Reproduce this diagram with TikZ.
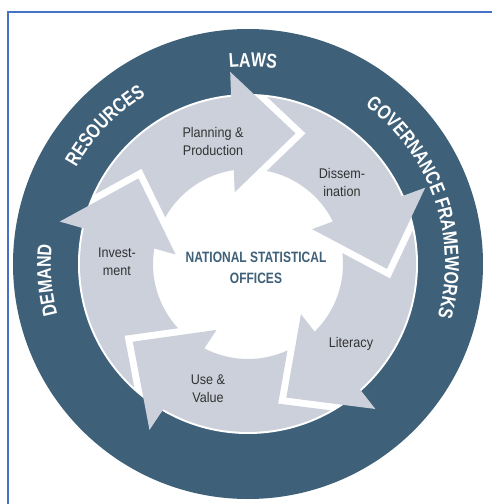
\documentclass[tikz,border=0pt]{standalone}
\usepackage{fontspec}
\setmainfont{Liberation Sans}
\newfontfamily\condfont[FakeStretch=0.8]{Liberation Sans}
\newfontfamily\innerfont[FakeStretch=0.9]{Liberation Sans}
\usetikzlibrary{decorations.text}
\definecolor{ringblue}{RGB}{62,96,121}
\definecolor{arrowgray}{RGB}{203,208,219}
\definecolor{labelgray}{RGB}{50,50,50}
\definecolor{frameblue}{RGB}{68,114,196}
\begin{document}
\begin{tikzpicture}[x=1pt,y=1pt,
  steplabel/.style={font=\innerfont\fontsize{14}{18}\selectfont, text=labelgray, align=center, inner sep=0pt},
  centerlabel/.style={font=\condfont\bfseries\fontsize{15}{21}\selectfont, text=ringblue, align=center, inner sep=0pt},
  ringtext/.style={decorate, decoration={text along path, text align=center, text color=white,
     text={|\condfont\bfseries\fontsize{20}{24}\selectfont|#1}}}]
\useasboundingbox (-248,-240) rectangle (244,264);
% frame
\draw[frameblue, line width=1.6pt] (-240,-241) -- (-240,252) -- (245,252);
% ring
\fill[ringblue] (0,0) circle[radius=235pt];
\fill[white] (0,0) circle[radius=170pt];
% cycle arrows
\foreach \k in {0,...,4}{
  \begin{scope}[rotate=-72*\k]
    \fill[arrowgray] (155.43:168pt) arc[start angle=155.43, end angle=95.77, radius=168pt]
      -- (95.3:193pt) -- (70:139pt) -- (100.5:73pt) -- (98.6:95pt)
      arc[start angle=98.6, end angle=150.57, radius=95pt]
      -- (138.18:142.85pt) -- cycle;
  \end{scope}
}
% ring labels
\path[ringtext={LAWS}] (148.6:197pt) arc[start angle=148.6, end angle=28.6, radius=197pt];
\path[ringtext={RESOURCES}] (196:197pt) arc[start angle=196, end angle=76, radius=197pt];
\path[ringtext={GOVERNANCE FRAMEWORKS}] (79:197pt) arc[start angle=79, end angle=-41, radius=197pt];
\path[ringtext={DEMAND}] (244.6:197pt) arc[start angle=244.6, end angle=124.6, radius=197pt];
% step labels
\node[steplabel] (plan) at (-35,123) {Planning \&\\Production};
\node[steplabel] (diss) at (94,82) {Dissem-\\ination};
\node[steplabel] (lit) at (103,-80) {Literacy};
\node[steplabel] (use) at (-40,-125) {Use \&\\Value};
\node[steplabel] (inv) at (-131,2) {Invest-\\ment};
\node[centerlabel] (nso) at (8,-4) {NATIONAL STATISTICAL\\OFFICES};
\end{tikzpicture}
\end{document}
